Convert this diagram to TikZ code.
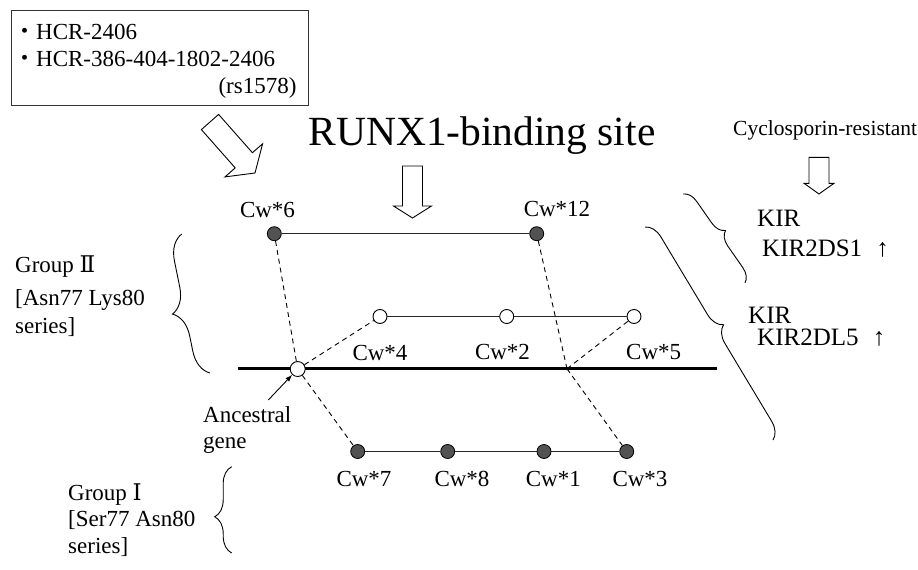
\documentclass[tikz,border=0pt]{standalone}
\usepackage{fontspec}
\setmainfont{Liberation Serif}
\newfontfamily\cjkfont{Noto Sans CJK JP}
\newfontfamily\romfont{DejaVu Serif}
\usetikzlibrary{decorations.pathreplacing,arrows.meta}
\begin{document}
\begin{tikzpicture}[x=1pt,y=-1pt,
  lbl/.style={inner sep=0pt, font=\fontsize{23}{27}\selectfont},
  kir/.style={inner sep=0pt, font=\fontsize{25}{29}\selectfont},
  full/.style={circle, draw=black, fill=black!68, minimum size=14pt, inner sep=0pt, line width=0.8pt},
  hollow/.style={circle, draw=black, fill=white, minimum size=14pt, inner sep=0pt, line width=0.9pt},
  conn/.style={line width=1pt, draw=black!85},
  dashconn/.style={line width=0.9pt, dash pattern=on 5pt off 4pt},
  bracestyle/.style={decorate, decoration={brace, amplitude=#1}, line width=0.9pt},
  blockarrow/.style={draw=black, fill=white, line width=0.9pt, line join=miter},
]
\useasboundingbox (0,0) rectangle (918,570);

% source box
\node[draw=black!80, line width=1pt, minimum width=297pt, minimum height=95pt, inner sep=0pt] (box) at (160.3,57.5) {};
\node[lbl, anchor=base west] (hcr1) at (13,39.3) {{\cjkfont ・}HCR-2406};
\node[lbl, anchor=base west] (hcr2) at (13,66.7) {{\cjkfont ・}HCR-386-404-1802-2406};
\node[lbl, anchor=base east] (rs) at (296.7,93.3) {(rs1578)};

% headings
\node[inner sep=0pt, font=\fontsize{41.5}{48}\selectfont, anchor=base west] (runx) at (308.3,145) {RUNX1-binding site};
\node[inner sep=0pt, font=\fontsize{21.5}{25}\selectfont, anchor=base west] (cyc) at (733,135) {Cyclosporin-resistant};

% block arrows
\draw[blockarrow] (218.6,114.4) -- (252.4,152.7) -- (262.6,143.8) -- (255,173) -- (225,176.9) -- (235.2,167.9) -- (201.4,129.6) -- cycle;
\draw[blockarrow] (402.5,166) -- (422.5,166) -- (422.5,206) -- (431.5,206) -- (412.5,218) -- (393.5,206) -- (402.5,206) -- cycle;
\draw[blockarrow] (809,157.3) -- (829,157.3) -- (829,183.3) -- (834,183.3) -- (819,194) -- (804,183.3) -- (809,183.3) -- cycle;

% KIR texts
\node[kir, anchor=base west] (kir1) at (757,226.7) {KIR};
\node[kir, anchor=base west] (kir1b) at (762,256) {KIR2DS1 \kern8pt↑};
\node[kir, anchor=base west] (kir2) at (748,323) {KIR};
\node[kir, anchor=base west] (kir2b) at (757,345) {KIR2DL5 \kern8pt↑};

% group texts
\node[lbl, anchor=base west] (g2a) at (15,272) {Group {\romfont Ⅱ}};
\node[lbl, anchor=base west] (g2b) at (15,305) {[Asn77 Lys80};
\node[lbl, anchor=base west] (g2c) at (15,333) {series]};
\node[lbl, anchor=base west] (g1a) at (68,500) {Group {\romfont Ⅰ}};
\node[lbl, anchor=base west] (g1b) at (68,526) {[Ser77 Asn80};
\node[lbl, anchor=base west] (g1c) at (68,553) {series]};

% braces
\coordinate (bA1) at (683,194); \coordinate (bA2) at (745,283);
\coordinate (bB1) at (645,227); \coordinate (bB2) at (773,440);
\coordinate (bC1) at (210,373); \coordinate (bC2) at (181.7,234);
\coordinate (bD1) at (231.7,553); \coordinate (bD2) at (231.7,466.7);
\draw[bracestyle=14pt] (bA1) -- (bA2);
\draw[bracestyle=17pt] (bB1) -- (bB2);
\draw[bracestyle=25pt, decoration={aspect=0.46}] (bC1) -- (bC2);
\draw[bracestyle=17pt, decoration={aspect=0.42}] (bD1) -- (bD2);

% thick baseline
\coordinate (hl) at (238,368.8);
\coordinate (hr) at (717,368.8);
\coordinate (j) at (567,368.8);
\draw[line width=3pt] (hl) -- (hr);

% alleles
\node[full] (c6) at (274.3,233.7) {};
\node[full] (c12) at (536.7,233.7) {};
\node[hollow] (c4) at (380,316.5) {};
\node[hollow] (c2) at (506.7,316.5) {};
\node[hollow] (c5) at (634,316.5) {};
\node[hollow, minimum size=15pt] (anc) at (297.7,369) {};
\node[full] (c7) at (357.7,451.5) {};
\node[full] (c8) at (447.7,451.5) {};
\node[full] (c1) at (544,451.5) {};
\node[full] (c3) at (626.7,451.5) {};

\node[lbl, anchor=base] (l6) at (267.5,217.5) {Cw*6};
\node[lbl, anchor=base] (l12) at (557,216.7) {Cw*12};
\node[lbl, anchor=base] (l4) at (380,360) {Cw*4};
\node[lbl, anchor=base] (l2) at (502.5,359.3) {Cw*2};
\node[lbl, anchor=base] (l5) at (653.7,359.3) {Cw*5};
\node[lbl, anchor=base] (l7) at (364,486.7) {Cw*7};
\node[lbl, anchor=base] (l8) at (462,486.7) {Cw*8};
\node[lbl, anchor=base] (l1) at (553.3,486.7) {Cw*1};
\node[lbl, anchor=base] (l3) at (640,486.7) {Cw*3};

\node[lbl, anchor=base west] (anct1) at (203,422) {Ancestral};
\node[lbl, anchor=base west] (anct2) at (203,448) {gene};
\coordinate (anctail) at (268.3,400);

% connectors
\draw[conn] (c6) -- (c12);
\draw[conn] (c4) -- (c2) -- (c5);
\draw[conn] (c7) -- (c8) -- (c1) -- (c3);
\draw[dashconn] (c6) -- (anc);
\draw[dashconn] (anc) -- (c4);
\draw[dashconn] (anc) -- (c7);
\draw[dashconn] (c12) -- (j);
\draw[dashconn] (j) -- (c5);
\draw[dashconn] (j) -- (c3);
\draw[-{Latex[length=7pt,width=5pt]}, line width=0.9pt] (anctail) -- (anc);
\end{tikzpicture}
\end{document}
